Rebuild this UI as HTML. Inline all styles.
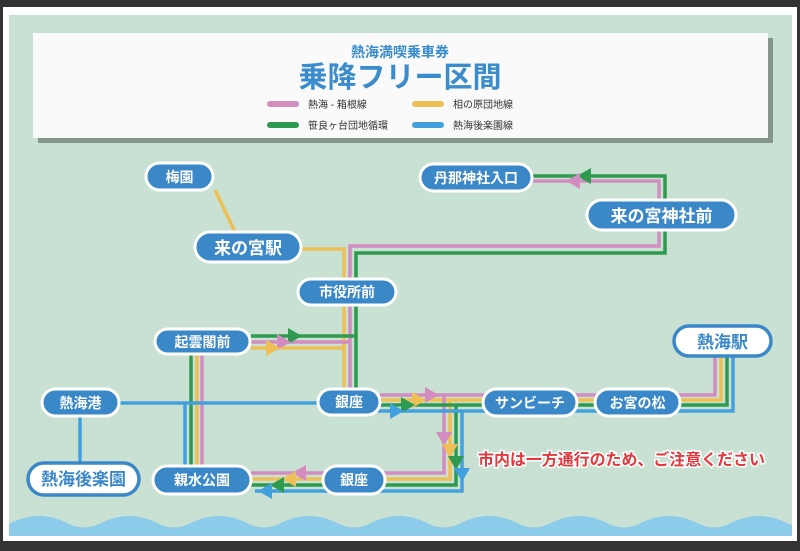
<!DOCTYPE html>
<html><head><meta charset="utf-8"><style>
html,body{margin:0;padding:0;background:#333;}
svg{display:block;}
text{font-family:"Liberation Sans","Noto Sans CJK JP",sans-serif;font-weight:bold;}
</style></head><body>
<svg width="800" height="551" viewBox="0 0 800 551" xmlns="http://www.w3.org/2000/svg">
<rect x="0" y="0" width="800" height="551" fill="#333"/>
<rect x="3" y="7" width="794" height="534" fill="#fff"/>
<rect x="9" y="15" width="783" height="521" fill="#c9e1d3"/>
<path d="M9 524 Q24 516 39 516 Q54 516 69 524 Q84 531 99 524 Q114 516 129 516 Q144 516 159 524 Q174 531 189 524 Q204 516 219 516 Q234 516 249 524 Q264 531 279 524 Q294 516 309 516 Q324 516 339 524 Q354 531 369 524 Q384 516 399 516 Q414 516 429 524 Q444 531 459 524 Q474 516 489 516 Q504 516 519 524 Q534 531 549 524 Q564 516 579 516 Q594 516 609 524 Q624 531 639 524 Q654 516 669 516 Q684 516 699 524 Q714 531 729 524 Q744 516 759 516 Q774 516 789 524 L792 525 L792 536 L9 536 Z" fill="#8ccbe9"/>
<rect x="38" y="38" width="735" height="105" fill="#87968c"/>
<rect x="33" y="33" width="735" height="105" fill="#fafafa"/>
<text x="400" y="57" font-size="14" fill="#3a8ccc" text-anchor="middle">熱海満喫乗車券</text>
<text x="400" y="87" font-size="29" fill="#3a8ccc" text-anchor="middle">乗降フリー区間</text>
<g stroke-width="6" stroke-linecap="round">
<line x1="270" y1="104" x2="296" y2="104" stroke="#d38cc0"/>
<line x1="415" y1="104" x2="441" y2="104" stroke="#eebf55"/>
<line x1="270" y1="125" x2="296" y2="125" stroke="#2e9a50"/>
<line x1="415" y1="125" x2="441" y2="125" stroke="#42a0dc"/>
</g>
<g font-size="10" fill="#333">
<text x="308" y="108" font-weight="normal" style="font-weight:normal">熱海 - 箱根線</text>
<text x="453" y="108" style="font-weight:normal">相の原団地線</text>
<text x="308" y="129" style="font-weight:normal">笹良ヶ台団地循環</text>
<text x="453" y="129" style="font-weight:normal">熱海後楽園線</text>
</g>
<g fill="none" stroke-width="3.5">
<line x1="215" y1="190" x2="235" y2="232" stroke="#eebf55"/>
<polyline points="301,249 344,249 344,400" stroke="#eebf55"/>
<polyline points="251,348 344,348" stroke="#eebf55"/>
<polyline points="197,354 197,466" stroke="#eebf55"/>
<polyline points="380,400 721,400 721,357" stroke="#eebf55"/>
<polyline points="450,400 450,479 251,479" stroke="#eebf55"/>
<polyline points="532,181 659,181 659,246 350,246 350,395" stroke="#d38cc0"/>
<polyline points="251,342 350,342" stroke="#d38cc0"/>
<polyline points="202,354 202,466" stroke="#d38cc0"/>
<polyline points="380,395 715,395 715,357" stroke="#d38cc0"/>
<polyline points="444,395 444,473 251,473" stroke="#d38cc0"/>
<polyline points="532,176 665,176 665,253 356,253 356,392" stroke="#2e9a50"/>
<polyline points="251,336 356,336" stroke="#2e9a50"/>
<polyline points="191,354 191,466" stroke="#2e9a50"/>
<polyline points="380,405 727,405 727,357" stroke="#2e9a50"/>
<polyline points="456,405 456,485 251,485" stroke="#2e9a50"/>
<line x1="119" y1="403" x2="318" y2="403" stroke="#42a0dc"/>
<line x1="80" y1="416" x2="80" y2="462" stroke="#42a0dc"/>
<line x1="185" y1="403" x2="185" y2="466" stroke="#42a0dc"/>
<polyline points="378,411 733,411 733,357" stroke="#42a0dc"/>
<polyline points="462,411 462,491 255,491" stroke="#42a0dc"/>
</g>
<g>
<polygon points="302,336 288,328 288,344" fill="#2e9a50"/>
<polygon points="291,342 277,334 277,350" fill="#d38cc0"/>
<polygon points="280,348 266,340 266,356" fill="#eebf55"/>
<polygon points="439,395 425,387 425,403" fill="#d38cc0"/>
<polygon points="426,400 412,392 412,408" fill="#eebf55"/>
<polygon points="415,405 401,397 401,413" fill="#2e9a50"/>
<polygon points="404,411 390,403 390,419" fill="#42a0dc"/>
<polygon points="444,446 436,432 452,432" fill="#d38cc0"/>
<polygon points="450,458 442,444 458,444" fill="#eebf55"/>
<polygon points="456,470 448,456 464,456" fill="#2e9a50"/>
<polygon points="462,482 454,468 470,468" fill="#42a0dc"/>
<polygon points="292,473 306,465 306,481" fill="#d38cc0"/>
<polygon points="282,479 296,471 296,487" fill="#eebf55"/>
<polygon points="270,485 284,477 284,493" fill="#2e9a50"/>
<polygon points="258,491 272,483 272,499" fill="#42a0dc"/>
<polygon points="577,176 591,168 591,184" fill="#2e9a50"/>
<polygon points="566,181 580,173 580,189" fill="#d38cc0"/>
</g>
<g stroke="#fff" stroke-width="3" fill="#3b88c9">
<rect x="146" y="163" width="67" height="27" rx="13.5"/>
<rect x="195" y="232" width="106" height="30" rx="15"/>
<rect x="298" y="279" width="98" height="26" rx="13"/>
<rect x="155" y="329" width="95" height="25" rx="12.5"/>
<rect x="420" y="164" width="112" height="27" rx="13.5"/>
<rect x="587" y="200" width="149" height="30" rx="15"/>
<rect x="483" y="389" width="94" height="27" rx="13.5"/>
<rect x="595" y="389" width="85" height="27" rx="13.5"/>
<rect x="318" y="389" width="62" height="26" rx="13"/>
<rect x="42" y="389" width="77" height="27" rx="13.5"/>
<rect x="153" y="466" width="98" height="28" rx="14"/>
<rect x="323" y="466" width="62" height="28" rx="14"/>
</g>
<g stroke="#3b88c9" stroke-width="3.5" fill="#fff">
<rect x="674" y="326" width="97" height="30" rx="15"/>
<rect x="28" y="463" width="111" height="32" rx="16"/>
</g>
<g fill="#fff" text-anchor="middle">
<text x="179.5" y="182" font-size="14">梅園</text>
<text x="248" y="254" font-size="17">来の宮駅</text>
<text x="347" y="297" font-size="14">市役所前</text>
<text x="202.5" y="347" font-size="14">起雲閣前</text>
<text x="476" y="183" font-size="14">丹那神社入口</text>
<text x="661.5" y="222" font-size="17">来の宮神社前</text>
<text x="530" y="408" font-size="14">サンビーチ</text>
<text x="637.5" y="408" font-size="14">お宮の松</text>
<text x="349" y="407" font-size="14">銀座</text>
<text x="80.5" y="408" font-size="14">熱海港</text>
<text x="202" y="485" font-size="14">親水公園</text>
<text x="354" y="485" font-size="14">銀座</text>
</g>
<g fill="#3b88c9" text-anchor="middle">
<text x="722.5" y="348" font-size="17">熱海駅</text>
<text x="83.5" y="485" font-size="17">熱海後楽園</text>
</g>
<text x="478" y="465" font-size="16" fill="#e0393e" stroke="#fff" stroke-width="3" paint-order="stroke" textLength="287">市内は一方通行のため、ご注意ください</text>
</svg>
</body></html>
